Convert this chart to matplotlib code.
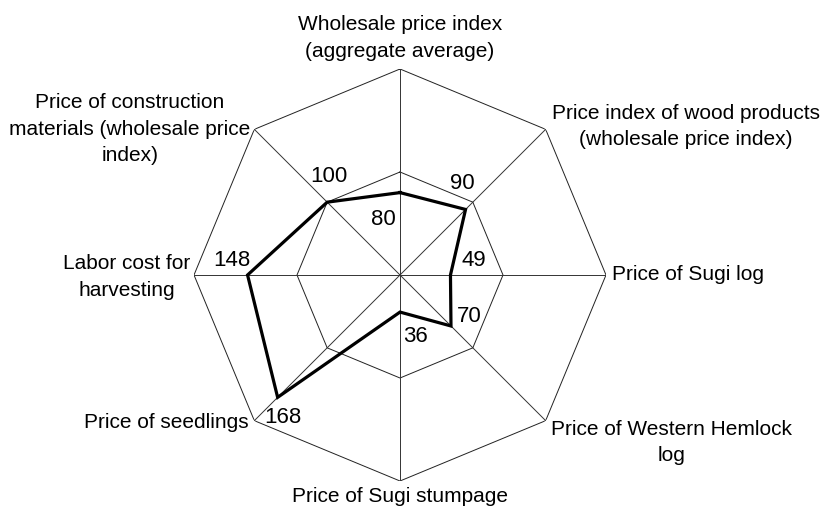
import numpy as np
import matplotlib
matplotlib.use('Agg')
import matplotlib.pyplot as plt

categories = [
    'Wholesale price index\n(aggregate average)',
    'Price index of wood products\n(wholesale price index)',
    'Price of Sugi log',
    'Price of Western Hemlock\nlog',
    'Price of Sugi stumpage',
    'Price of seedlings',
    'Labor cost for\nharvesting',
    'Price of construction\nmaterials (wholesale price\nindex)',
]
values = [80, 90, 49, 70, 36, 168, 148, 100]
rings = [100, 200]

# label placement (pixel offsets from the outer vertex / data point)
cat_style = [
    ((0, 8), 'center', 'bottom'),
    ((6, 3), 'left', 'center'),
    ((6, 0), 'left', 'center'),
    ((5, 1), 'left', 'top'),
    ((0, -6), 'center', 'top'),
    ((-6, -2), 'right', 'center'),
    ((-4, -2), 'right', 'center'),
    ((-4, 0), 'right', 'center'),
]
val_offsets = [(-17, -27), (-3, 26), (23, 15), (18, 9), (15, -24), (5, -20), (-16, 15), (2, 26)]


def main():
    plt.rcParams['font.family'] = ['Liberation Sans', 'DejaVu Sans']
    n = len(categories)
    theta = np.arange(n) * 2 * np.pi / n
    theta_closed = np.append(theta, theta[0])

    fig = plt.figure(figsize=(8.27, 5.17), dpi=100)
    ax = fig.add_axes([194 / 827, 36 / 517, 412 / 827, 412 / 517], projection='polar')
    ax.set_theta_offset(np.pi / 2)
    ax.set_theta_direction(-1)
    ax.set_ylim(0, rings[-1])
    ax.grid(False)
    ax.spines['polar'].set_visible(False)
    ax.set_xticks([])
    ax.set_yticks([])
    ax.patch.set_visible(False)

    for r in rings:
        ax.plot(theta_closed, [r] * (n + 1), color='#222222', lw=0.7)
    for t in theta:
        ax.plot([t, t], [0, rings[-1]], color='#333333', lw=0.7)

    vals_closed = values + values[:1]
    ax.plot(theta_closed, vals_closed, color='black', lw=2.3,
            solid_joinstyle='miter', zorder=5)

    for t, v, off in zip(theta, values, val_offsets):
        ax.annotate(str(v), (t, v), xytext=off, textcoords='offset pixels',
                    ha='center', va='center', fontsize=16, zorder=6)

    for t, lab, (off, ha, va) in zip(theta, categories, cat_style):
        ax.annotate(lab, (t, rings[-1]), xytext=off, textcoords='offset pixels',
                    ha=ha, va=va, multialignment='center', fontsize=15,
                    linespacing=1.5, annotation_clip=False)

    fig.savefig('out.png', dpi=100)


if __name__ == "__main__":
    main()
